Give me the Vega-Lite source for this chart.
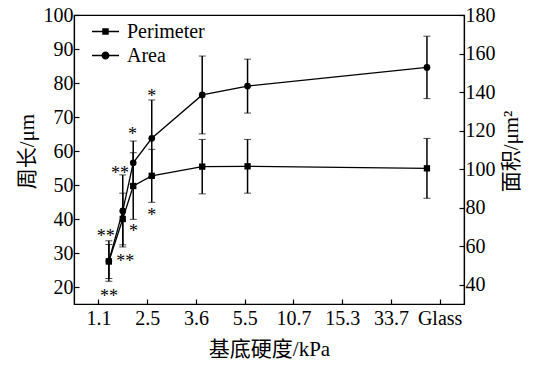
{
  "$schema": "https://vega.github.io/schema/vega-lite/v6.json",
  "width": 390,
  "height": 289,
  "autosize": {"type": "none"},
  "padding": {"left": 74, "top": 15, "right": 73, "bottom": 61},
  "background": "white",
  "datasets": {
    "perim": [
      {"x": 0.215, "series": "Perimeter", "value": 27.5, "err": 5.0},
      {"x": 0.50, "series": "Perimeter", "value": 40.0, "err": 7.6},
      {"x": 0.715, "series": "Perimeter", "value": 49.7, "err": 9.8},
      {"x": 1.095, "series": "Perimeter", "value": 52.7, "err": 7.8},
      {"x": 2.13, "series": "Perimeter", "value": 55.4, "err": 8.0},
      {"x": 3.06, "series": "Perimeter", "value": 55.5, "err": 7.9},
      {"x": 6.74, "series": "Perimeter", "value": 54.9, "err": 8.8}
    ],
    "area": [
      {"x": 0.215, "series": "Area", "value": 52.3, "err": 10.5},
      {"x": 0.50, "series": "Area", "value": 78.3, "err": 18.7},
      {"x": 0.715, "series": "Area", "value": 103.3, "err": 11.3},
      {"x": 1.095, "series": "Area", "value": 116.0, "err": 19.9},
      {"x": 2.13, "series": "Area", "value": 138.5, "err": 20.2},
      {"x": 3.06, "series": "Area", "value": 143.1, "err": 14.0},
      {"x": 6.74, "series": "Area", "value": 152.8, "err": 16.2}
    ],
    "notes": [
      {"x": 0.15, "value": 33.1, "label": "**"},
      {"x": 0.22, "value": 15.7, "label": "**"},
      {"x": 0.445, "value": 51.9, "label": "**"},
      {"x": 0.55, "value": 26.0, "label": "**"},
      {"x": 0.70, "value": 63.1, "label": "*"},
      {"x": 0.72, "value": 34.6, "label": "*"},
      {"x": 1.095, "value": 74.3, "label": "*"},
      {"x": 1.095, "value": 39.3, "label": "*"}
    ],
    "keys": [
      {"series": "Perimeter"},
      {"series": "Area"}
    ]
  },
  "encoding": {
    "x": {"field": "x", "type": "quantitative", "scale": {"domain": [-0.5, 7.5], "nice": false, "zero": false},
      "axis": {"title": "基底硬度/kPa", "values": [0, 1, 2, 3, 4, 5, 6, 7],
        "labelExpr": "['1.1','2.5','3.6','5.5','10.7','15.3','33.7','Glass'][datum.value]",
        "labelFont": "Liberation Serif", "titleFont": "Liberation Serif, Noto Sans CJK SC",
        "labelPadding": 9, "titlePadding": 10}}
  },
  "layer": [
    {
      "encoding": {
        "y": {"field": "value", "type": "quantitative", "scale": {"domain": [15, 100], "nice": false, "zero": false},
          "axis": {"title": "周长/μm", "orient": "left", "values": [20, 30, 40, 50, 60, 70, 80, 90, 100],
            "labelFont": "Liberation Serif", "titleFont": "Liberation Serif, Noto Sans CJK SC",
            "titlePadding": 6, "titleY": 136}}
      },
      "layer": [
        {
          "data": {"name": "perim"},
          "mark": {"type": "line", "color": "black", "strokeWidth": 1.3}
        },
        {
          "data": {"name": "perim"},
          "mark": {"type": "errorbar", "ticks": {"size": 7, "color": "black", "strokeWidth": 1.5}, "rule": {"color": "black", "strokeWidth": 1.5}},
          "encoding": {"yError": {"field": "err"}}
        },
        {
          "data": {"name": "perim"},
          "mark": {"type": "point", "filled": true, "color": "black", "opacity": 1, "size": 40, "shape": "square"}
        },
        {
          "data": {"name": "notes"},
          "mark": {"type": "text", "font": "Liberation Serif", "fontSize": 18, "color": "black", "align": "center", "baseline": "alphabetic"},
          "encoding": {"text": {"field": "label"}}
        }
      ]
    },
    {
      "encoding": {
        "y": {"field": "value", "type": "quantitative", "scale": {"domain": [30, 180], "nice": false, "zero": false},
          "axis": {"title": "面积/μm²", "orient": "right", "values": [40, 60, 80, 100, 120, 140, 160, 180],
            "labelFont": "Liberation Serif", "titleFont": "Liberation Serif, Noto Sans CJK SC",
            "titleAngle": 270, "titleBaseline": "top", "titlePadding": 5, "titleY": 136}}
      },
      "layer": [
        {
          "data": {"name": "area"},
          "mark": {"type": "line", "color": "black", "strokeWidth": 1.3}
        },
        {
          "data": {"name": "area"},
          "mark": {"type": "errorbar", "ticks": {"size": 7, "color": "black", "strokeWidth": 1.5}, "rule": {"color": "black", "strokeWidth": 1.5}},
          "encoding": {"yError": {"field": "err"}}
        },
        {
          "data": {"name": "area"},
          "mark": {"type": "point", "filled": true, "color": "black", "opacity": 1, "size": 45, "shape": "circle"}
        }
      ]
    },
    {
      "data": {"name": "keys"},
      "mark": {"type": "point", "filled": true, "color": "black", "opacity": 0, "size": 729},
      "encoding": {
        "shape": {"field": "series", "type": "nominal",
          "scale": {"domain": ["Perimeter", "Area"],
            "range": ["M-1,-0.05H1V0.05H-1ZM-0.24,-0.24H0.24V0.24H-0.24Z", "M-1,-0.05H1V0.05H-1ZM0.3,0A0.3,0.3 0 1,1 -0.3,0A0.3,0.3 0 1,1 0.3,0Z"]},
          "legend": {
            "title": null, "orient": "none", "legendX": 18, "legendY": 3, "padding": 0,
            "labelFont": "Liberation Serif", "labelFontSize": 20, "labelColor": "black", "labelOffset": 8,
            "rowPadding": -8, "symbolSize": 729, "symbolOpacity": 1,
            "symbolFillColor": "black", "symbolStrokeWidth": 0
          }}
      }
    }
  ],
  "resolve": {"scale": {"y": "independent"}},
  "config": {
    "font": "Liberation Serif",
    "view": {"stroke": "black", "strokeWidth": 1.2},
    "axis": {
      "grid": false,
      "domainColor": "black",
      "domainWidth": 1.2,
      "tickColor": "black",
      "tickSize": -5,
      "tickWidth": 1.2,
      "labelColor": "black",
      "labelFont": "Liberation Serif",
      "labelFontSize": 20,
      "labelPadding": 6,
      "titleColor": "black",
      "titleFont": "Liberation Serif, Noto Sans CJK SC",
      "titleFontSize": 21,
      "titleFontWeight": "normal"
    }
  }
}
